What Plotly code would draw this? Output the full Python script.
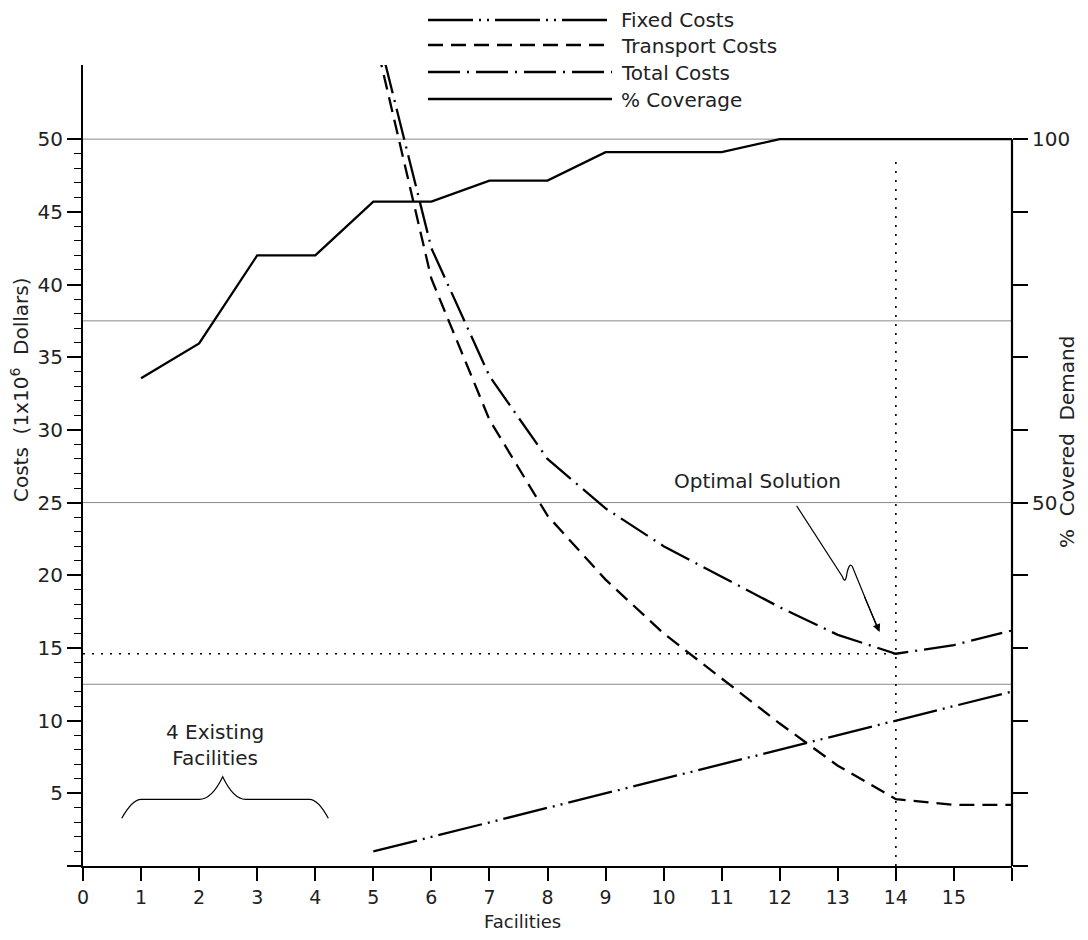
import plotly.graph_objects as go

# ---------------- data ----------------
facilities = list(range(1, 17))
coverage_pct = [67.1, 71.9, 84.0, 84.0, 91.4, 91.4, 94.3, 94.3, 98.2, 98.2, 98.2,
                100.0, 100.0, 100.0, 100.0, 100.0]

cost_facilities = list(range(5, 17))
fixed_costs = [1, 2, 3, 4, 5, 6, 7, 8, 9, 10, 11, 12]
transport_costs = [57.5, 40.4, 30.7, 24.1, 19.7, 16.0, 12.9, 9.8, 6.9, 4.6, 4.2, 4.2]
total_costs = [58.5, 42.5, 33.7, 28.0, 24.6, 22.0, 19.9, 17.8, 15.9, 14.6, 15.2, 16.2]

x_ticks = list(range(0, 17))
x_ticktext = [str(v) for v in range(0, 16)] + [""]
y_ticks = list(range(0, 51, 5))
y_ticktext = [""] + [str(v) for v in range(5, 51, 5)]
y_minor = [v for v in range(1, 50) if v % 5 != 0]
y2_ticks = list(range(0, 101, 10))
y2_ticktext = ["" if v not in (50, 100) else str(v) for v in y2_ticks]
grid_levels = [12.5, 25, 37.5, 50]

legend_names = ["Fixed Costs", "Transport Costs", "Total Costs", "% Coverage"]

# optimum
opt_i = min(range(len(total_costs)), key=lambda i: total_costs[i])
opt_x = cost_facilities[opt_i]
opt_cost = total_costs[opt_i]

# ---------------- styles ----------------
FONT = "DejaVu Sans"
FS = 20
TXT = "#222"
DASH_FIXED = "45px,6px,2px,6px,2px,6px"
DASH_TRANS = "15px,8px"
DASH_TOTAL = "32px,7px,2px,7px"
LW = 2.3

fig = go.Figure()

fig.add_trace(go.Scatter(x=cost_facilities, y=fixed_costs, mode="lines",
                         line=dict(color="black", width=LW, dash=DASH_FIXED),
                         showlegend=False, name=legend_names[0]))
fig.add_trace(go.Scatter(x=cost_facilities, y=transport_costs, mode="lines",
                         line=dict(color="black", width=LW, dash=DASH_TRANS),
                         showlegend=False, name=legend_names[1]))
fig.add_trace(go.Scatter(x=cost_facilities, y=total_costs, mode="lines",
                         line=dict(color="black", width=LW, dash=DASH_TOTAL),
                         showlegend=False, name=legend_names[2]))
fig.add_trace(go.Scatter(x=facilities, y=coverage_pct, mode="lines", yaxis="y2",
                         line=dict(color="black", width=LW),
                         showlegend=False, name=legend_names[3]))

# optimum reference lines (dotted)
fig.add_trace(go.Scatter(x=[0, opt_x], y=[opt_cost, opt_cost], mode="lines",
                         line=dict(color="black", width=1.6, dash="2px,7px"),
                         showlegend=False, hoverinfo="skip"))
fig.add_trace(go.Scatter(x=[opt_x, opt_x], y=[0, 48.6], mode="lines",
                         line=dict(color="black", width=1.6, dash="2px,7px"),
                         showlegend=False, hoverinfo="skip"))

shapes = []
for g in grid_levels:
    shapes.append(dict(type="line", xref="paper", yref="y", x0=0, x1=1, y0=g, y1=g,
                       line=dict(color="#8a8a8a", width=1), layer="below"))
# right axis line (0-100 %)
shapes.append(dict(type="line", xref="paper", yref="y2", x0=1, x1=1, y0=0, y1=100,
                   line=dict(color="black", width=2.2)))

# map reference screen pixels to paper coords (plot area on screen 83..1012 x 65..866)
def px_x(p):
    return (p - 83) / 929.0

def px_y(p):
    return (866 - p) / 801.0

leg_line_y = [20, 45, 72, 99]
leg_text_y = [20, 46, 73, 100]
leg_dash = [DASH_FIXED, DASH_TRANS, DASH_TOTAL, "solid"]
for ly, d in zip(leg_line_y, leg_dash):
    shapes.append(dict(type="line", xref="paper", yref="paper",
                       x0=px_x(428), x1=px_x(612), y0=px_y(ly), y1=px_y(ly),
                       line=dict(color="black", width=2.5, dash=d)))

# optimal-solution squiggle arrow
shapes.append(dict(type="path", xref="x", yref="y",
                   path="M 12.29,24.78 L 13.08,19.9 Q 13.13,19.3 13.16,20.2 "
                        "Q 13.20,20.9 13.25,20.6 L 13.70,16.2",
                   line=dict(color="black", width=1.2)))
# brace for existing facilities
shapes.append(dict(type="path", xref="x", yref="y",
                   path="M 0.667,3.28 Q 0.85,4.587 1.0,4.587 L 2.0,4.587 "
                        "Q 2.22,4.587 2.406,6.142 Q 2.59,4.587 2.8,4.587 "
                        "L 3.9,4.587 Q 4.05,4.587 4.225,3.28",
                   line=dict(color="black", width=1.2)))

annotations = []
for name, ty in zip(legend_names, leg_text_y):
    annotations.append(dict(xref="paper", yref="paper", x=px_x(619), y=px_y(ty),
                            text=name, showarrow=False, xanchor="left", yanchor="middle",
                            font=dict(family=FONT, size=FS, color=TXT)))

annotations.append(dict(xref="x", yref="y", x=(757 - 83) / 58.06, y=(866 - 481) / 14.54,
                        text="Optimal Solution", showarrow=False,
                        xanchor="center", yanchor="middle",
                        font=dict(family=FONT, size=FS, color=TXT)))
annotations.append(dict(xref="x", yref="y", x=13.72, y=16.1, ax=13.45, ay=18.6,
                        axref="x", ayref="y", text="", showarrow=True,
                        arrowhead=2, arrowsize=1.3, arrowwidth=1.2, arrowcolor="black"))
annotations.append(dict(xref="x", yref="y", x=2.28, y=8.3,
                        text="4 Existing<br>Facilities", showarrow=False,
                        xanchor="center", yanchor="middle",
                        font=dict(family=FONT, size=FS, color=TXT)))

annotations.append(dict(xref="paper", yref="paper", x=px_x(20), y=px_y(390),
                        text="Costs  (1x10<sup>6</sup>  Dollars)", textangle=-90,
                        xanchor="center", yanchor="middle",
                        showarrow=False, font=dict(family=FONT, size=FS, color=TXT)))
annotations.append(dict(xref="paper", yref="paper", x=px_x(1067), y=px_y(442),
                        text="%  Covered  Demand", textangle=-90,
                        xanchor="center", yanchor="middle",
                        showarrow=False, font=dict(family=FONT, size=FS, color=TXT)))
annotations.append(dict(xref="paper", yref="paper", x=px_x(522), y=px_y(932),
                        text="Facilities", showarrow=False,
                        xanchor="center", yanchor="bottom", borderpad=0, borderwidth=0,
                        font=dict(family=FONT, size=18, color=TXT)))

# page has an 8px body margin: keep the figure small enough to avoid scrollbars
fig.update_layout(
    width=1072, height=924,
    margin=dict(l=75, r=68, t=57, b=66, autoexpand=False),
    paper_bgcolor="white", plot_bgcolor="white",
    font=dict(family=FONT, size=FS, color=TXT),
    showlegend=False,
    xaxis=dict(range=[0, 16], tickmode="array", tickvals=x_ticks, ticktext=x_ticktext,
               ticks="outside", ticklen=13, tickwidth=1.5, tickcolor="black",
               showline=True, linewidth=2.2, linecolor="black",
               showgrid=False, zeroline=False, automargin=False,
               tickfont=dict(family=FONT, size=19, color=TXT)),
    yaxis=dict(range=[0, 55.1], tickmode="array", tickvals=y_ticks, ticktext=y_ticktext,
               ticks="outside", ticklen=14, tickwidth=1.5, tickcolor="black",
               minor=dict(tickmode="array", tickvals=y_minor, ticks="outside",
                          ticklen=7, tickwidth=1.2, tickcolor="black", showgrid=False),
               showline=True, linewidth=2.2, linecolor="black",
               showgrid=False, zeroline=False, automargin=False,
               tickfont=dict(family=FONT, size=FS, color=TXT)),
    yaxis2=dict(range=[0, 110.2], overlaying="y", side="right",
                tickmode="array", tickvals=y2_ticks, ticktext=y2_ticktext,
                ticks="outside", ticklen=15, tickwidth=1.5, tickcolor="black",
                showline=False, showgrid=False, zeroline=False, automargin=False,
                tickfont=dict(family=FONT, size=FS, color=TXT)),
    shapes=shapes,
    annotations=annotations,
)

fig.write_html("out.html")
